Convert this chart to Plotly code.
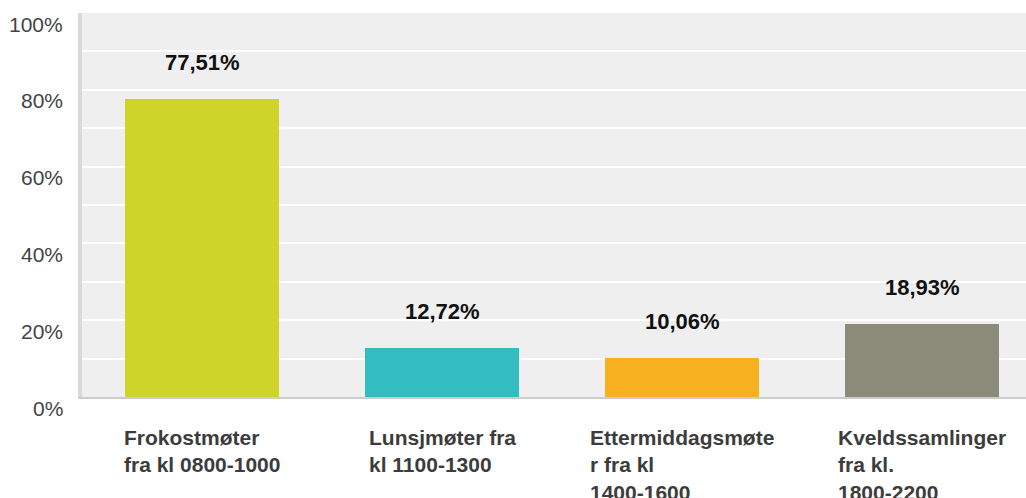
import plotly.graph_objects as go

categories = ["Frokostmøter fra kl 0800-1000", "Lunsjmøter fra kl 1100-1300",
              "Ettermiddagsmøter fra kl 1400-1600", "Kveldssamlinger fra kl. 1800-2200"]
category_labels = ["Frokostmøter<br>fra kl 0800-1000", "Lunsjmøter fra<br>kl 1100-1300",
                   "Ettermiddagsmøte<br>r fra kl<br>1400-1600", "Kveldssamlinger<br>fra kl.<br>1800-2200"]
values = [77.51, 12.72, 10.06, 18.93]
value_labels = ["77,51%", "12,72%", "10,06%", "18,93%"]
colors = ["#cfd42a", "#33bdc0", "#f7b020", "#8b8b7a"]
tick_vals = [0, 20, 40, 60, 80, 100]
tick_text = ["0%", "20%", "40%", "60%", "80%", "100%"]

fig = go.Figure()
fig.add_trace(go.Bar(x=categories, y=values, marker=dict(color=colors, line=dict(width=0)),
                     width=0.642, hoverinfo="skip"))

annotations = []
for c, v, t in zip(categories, values, value_labels):
    annotations.append(dict(x=c, y=v, xref="x", yref="y", text=t, showarrow=False,
                            yanchor="middle", yshift=37,
                            font=dict(family="Liberation Sans, Arial", size=22, color="#111111", weight="bold")))
for c, t in zip(categories, category_labels):
    annotations.append(dict(x=c, y=0, xref="x", yref="paper", text=t, showarrow=False,
                            xanchor="center", yanchor="top", align="left", yshift=-27,
                            font=dict(family="Liberation Sans, Arial", size=21, color="#3c3c3c", weight="bold")))
for v, t in zip(tick_vals, tick_text):
    annotations.append(dict(x=0, y=v, xref="paper", yref="y", text=t, showarrow=False,
                            xanchor="right", yanchor="middle", xshift=-17, yshift=-11,
                            font=dict(family="Liberation Sans, Arial", size=21, color="#444444")))

fig.update_layout(
    width=1026, height=498,
    margin=dict(l=82, r=0, t=13, b=101, autoexpand=False),
    paper_bgcolor="white", plot_bgcolor="#efefef",
    showlegend=False,
    annotations=annotations,
    bargap=0,
)
fig.update_xaxes(range=[-0.5, 3.433], showticklabels=False, showgrid=False, automargin=False,
                 showline=True, linecolor="#cccccc", linewidth=2, ticks="", fixedrange=True)
fig.update_yaxes(range=[0, 100], dtick=10, showticklabels=False, showgrid=True, automargin=False,
                 gridcolor="white", gridwidth=2, zeroline=False,
                 showline=True, linecolor="#d9d9d9", linewidth=4, ticks="", fixedrange=True)

fig.write_html("out.html", config={"displayModeBar": False},
               post_script="document.body.style.margin='0';document.body.style.overflow='hidden';")
